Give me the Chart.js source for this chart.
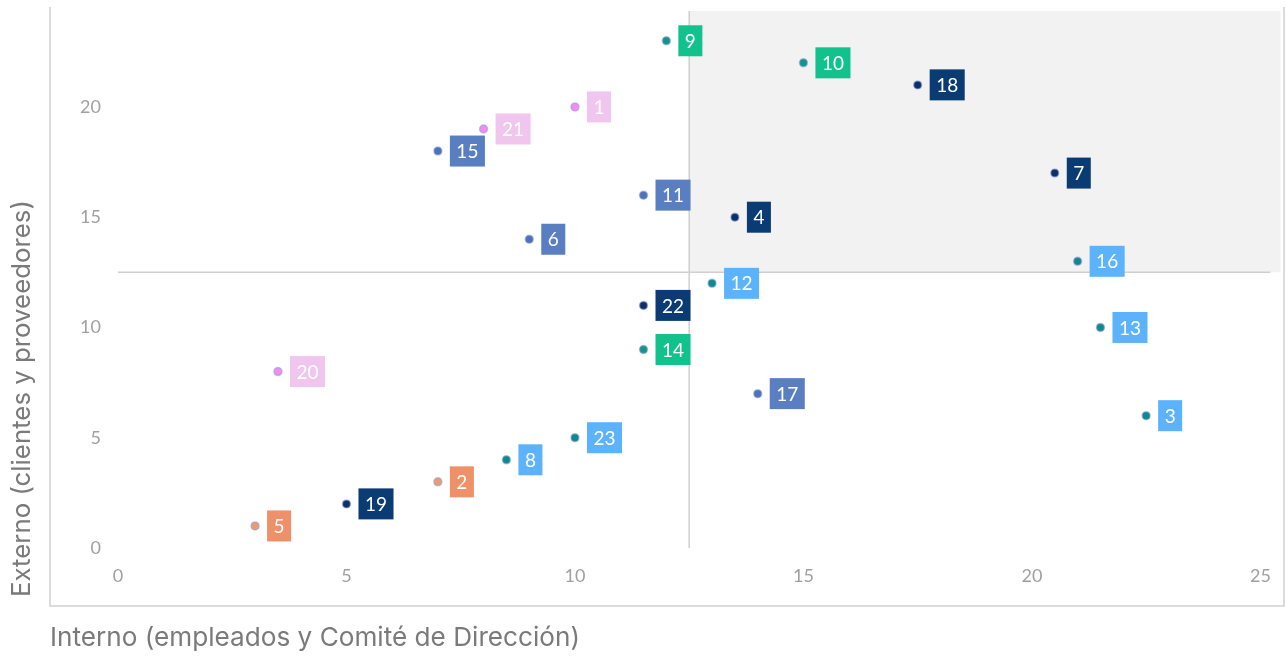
<!DOCTYPE html>
<html>
<head>
<meta charset="utf-8">
<script src="https://cdn.jsdelivr.net/npm/chart.js@4"></script>
<style>
  html,body{margin:0;padding:0;background:#fff;}
  #c{display:block;}
</style>
</head>
<body>
<canvas id="c" width="1286" height="657"></canvas>
<script>
// ---- data ----
const ids    = [1, 2, 3, 4, 5, 6, 7, 8, 9, 10, 11, 12, 13, 14, 15, 16, 17, 18, 19, 20, 21, 22, 23];
const xVals  = [10, 7, 22.5, 13.5, 3, 9, 20.5, 8.5, 12, 15, 11.5, 13, 21.5, 11.5, 7, 21, 14, 17.5, 5, 3.5, 8, 11.5, 10];
const yVals  = [20, 3, 6, 15, 1, 14, 17, 4, 23, 22, 16, 12, 10, 9, 18, 13, 7, 21, 2, 8, 19, 11, 5];
const groups = ['pink','orange','light','navy','orange','med','navy','light','green','green','med','light','light','green','med','light','med','navy','navy','pink','pink','navy','light'];
const xTicks = [0, 5, 10, 15, 20, 25];
const yTicks = [0, 5, 10, 15, 20];
const xTitle = 'Interno (empleados y Comité de Dirección)';
const yTitle = 'Externo (clientes y proveedores)';
const threshold = 12.5;

// ---- styles ----
const labelColors = {green:'#12c28d', navy:'#0b3b73', pink:'#f0c6ee', med:'#5a7ec2', light:'#5cb3fb', orange:'#ee9068'};
const dotColors   = {green:'#13948a', navy:'#0b2f66', pink:'#f28cf0', med:'#4d72b8', light:'#0f8a8a', orange:'#ee9a70'};

const points = ids.map((id,i)=>({x:xVals[i], y:yVals[i]}));

const decor = {
  id:'decor',
  beforeDatasetsDraw(chart){
    const {ctx, chartArea:ca, scales:{x,y}} = chart;
    ctx.save();
    const qx = x.getPixelForValue(threshold), qy = y.getPixelForValue(threshold);
    ctx.fillStyle = '#f2f2f2';
    ctx.fillRect(qx, ca.top, ca.right - qx, qy - ca.top);
    ctx.strokeStyle = '#dcdcdc';
    ctx.lineWidth = 2;
    ctx.beginPath();
    ctx.moveTo(50, 7); ctx.lineTo(50, 606); ctx.lineTo(1284, 606); ctx.lineTo(1284, 7);
    ctx.stroke();
    ctx.strokeStyle = '#cfcfcf';
    ctx.lineWidth = 1.5;
    ctx.beginPath();
    ctx.moveTo(ca.left, qy); ctx.lineTo(ca.right - 10, qy);
    ctx.moveTo(qx, ca.top); ctx.lineTo(qx, y.getPixelForValue(0));
    ctx.stroke();
    ctx.restore();
  },
  afterDatasetsDraw(chart){
    const {ctx} = chart;
    const meta = chart.getDatasetMeta(0);
    ctx.save();
    ctx.font = '19px Lato';
    ctx.textAlign = 'center';
    ctx.textBaseline = 'middle';
    meta.data.forEach((el,i)=>{
      const txt = String(ids[i]);
      const w = ctx.measureText(txt).width + 13;
      const h = 31;
      const bx = el.x + 12, by = el.y - h/2;
      ctx.fillStyle = labelColors[groups[i]];
      ctx.fillRect(bx, by, w, h);
      ctx.fillStyle = '#ffffff';
      ctx.fillText(txt, bx + w/2, el.y + 1);
    });
    ctx.restore();
  },
  afterDraw(chart){
    const {ctx} = chart;
    ctx.save();
    ctx.fillStyle = '#7a7a7a';
    ctx.textBaseline = 'middle';
    ctx.textAlign = 'left';
    ctx.font = '20px Inter';
    let s = 20 * 530 / ctx.measureText(xTitle).width;
    ctx.font = s.toFixed(2) + 'px Inter';
    ctx.fillText(xTitle, 50, 638);
    ctx.font = '20px Inter';
    s = 20 * 397 / ctx.measureText(yTitle).width;
    ctx.font = s.toFixed(2) + 'px Inter';
    ctx.translate(22, 597);
    ctx.rotate(-Math.PI/2);
    ctx.fillText(yTitle, 0, 0);
    ctx.restore();
  }
};

new Chart(document.getElementById('c'), {
  type:'scatter',
  data:{
    datasets:[{
      data: points,
      pointRadius: 4,
      pointHoverRadius: 4,
      pointBackgroundColor: groups.map(g=>dotColors[g]),
      pointBorderColor: 'rgba(140,160,225,0.55)',
      pointBorderWidth: 1.5
    }]
  },
  options:{
    responsive:false,
    animation:false,
    events:[],
    layout:{padding:{top:11, right:4, left:0, bottom:0}},
    plugins:{legend:{display:false}, tooltip:{enabled:false}},
    scales:{
      x:{
        type:'linear', min:0, max:25.44,
        grid:{display:false, drawTicks:false},
        border:{display:false},
        afterBuildTicks(scale){ scale.ticks = xTicks.map(v=>({value:v})); },
        afterFit(scale){ scale.height = 109; scale.paddingLeft = 0; scale.paddingRight = 0; },
        ticks:{padding:17, color:'#a0a0a0', font:{family:'Lato', size:18}, maxRotation:0, autoSkip:false}
      },
      y:{
        type:'linear', min:0, max:24.35,
        grid:{display:false, drawTicks:false},
        border:{display:false},
        afterBuildTicks(scale){ scale.ticks = yTicks.map(v=>({value:v})); },
        afterFit(scale){ scale.width = 118; scale.paddingTop = 0; scale.paddingBottom = 0; },
        ticks:{padding:17, color:'#a0a0a0', font:{family:'Lato', size:18}, autoSkip:false}
      }
    }
  },
  plugins:[decor]
});
</script>
</body>
</html>
